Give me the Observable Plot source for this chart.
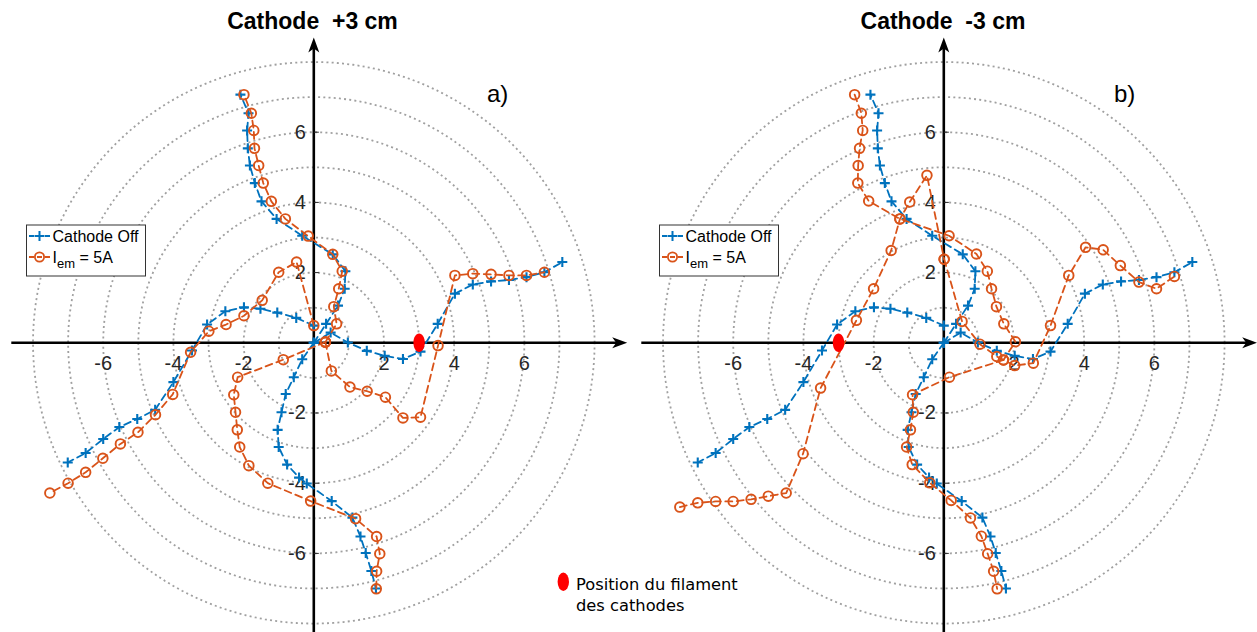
<!DOCTYPE html>
<html>
<head>
<meta charset="utf-8">
<script src="https://cdn.jsdelivr.net/npm/d3@7"></script>
<script src="https://cdn.jsdelivr.net/npm/@observablehq/plot@0.6"></script>
<style>
  html, body { margin: 0; padding: 0; background: #fff; }
  #wrap { position: relative; width: 1257px; height: 632px; overflow: hidden; font-family: "Liberation Sans", Arial, sans-serif; }
  .panel { position: absolute; top: 0; }
  #overlay { position: absolute; left: 0; top: 0; pointer-events: none; }
</style>
</head>
<body>
<div id="wrap">
  <div class="panel" id="left" style="left:0px"></div>
  <div class="panel" id="right" style="left:629px"></div>
  <svg id="overlay" width="1257" height="632"></svg>
</div>
<script>
// ---------------- DATA ----------------
// Axis tick labels and grid circle radii
const tickValues = [-6, -4, -2, 2, 4, 6];
const gridRadii = [1, 2, 3, 4, 5, 6, 7, 8];

// Cathode Off (blue, identical in both panels): four arms, [x, y] in cm
const offArmTop = [[0,0],[0.35,0.54],[0.69,1.06],[0.88,1.54],[0.90,2.04],[0.54,2.52],[-0.33,3.05],[-1.06,3.53],[-1.49,4.03],[-1.68,4.55],[-1.82,5.05],[-1.88,5.54],[-1.90,6.05],[-1.86,6.54],[-2.09,7.07]];
const offArmRight = [[0,0],[0.48,0.29],[0.97,0.01],[1.51,-0.23],[2.02,-0.37],[2.54,-0.46],[3.04,-0.25],[3.53,0.54],[4.02,1.40],[4.53,1.66],[5.05,1.75],[5.56,1.79],[6.06,1.87],[6.57,2.01],[7.08,2.30]];
const offArmLeft = [[0,0.49],[-0.50,0.71],[-1.04,0.86],[-1.52,0.97],[-1.99,1.01],[-2.52,0.90],[-3.04,0.52],[-3.47,-0.22],[-4.00,-1.12],[-4.52,-1.91],[-5.03,-2.17],[-5.54,-2.40],[-6.00,-2.74],[-6.50,-3.14],[-7.01,-3.41]];
const offArmBottom = [[0,0],[-0.33,-0.47],[-0.57,-0.98],[-0.80,-1.46],[-0.92,-1.98],[-1.03,-2.48],[-1.00,-2.97],[-0.76,-3.47],[-0.42,-3.84],[-0.20,-4.01],[0.51,-4.51],[1.10,-4.98],[1.33,-5.52],[1.48,-5.99],[1.64,-6.50],[1.77,-7.00]];

// I_em = 5A, cathode at +3 cm (panel a)
const plusArmTop = [[0.33,0.02],[0.65,0.54],[0.57,1.03],[0.71,1.54],[0.81,2.04],[0.54,2.52],[-0.16,3.04],[-0.81,3.53],[-1.21,4.03],[-1.44,4.55],[-1.57,5.05],[-1.69,5.54],[-1.71,6.05],[-1.78,6.54],[-1.99,7.07]];
const plusArmRight = [[0.33,0.02],[0.50,-0.80],[1.03,-1.26],[1.52,-1.38],[2.04,-1.55],[2.54,-2.14],[3.04,-2.12],[3.54,-0.08],[4.02,1.92],[4.53,1.97],[5.05,1.95],[5.56,1.92],[6.06,1.92],[6.57,2.01]];
const plusArmLeft = [[0,0.49],[-0.49,2.30],[-1.00,2.01],[-1.47,1.21],[-1.99,0.77],[-2.50,0.52],[-2.99,0.33],[-3.51,-0.27],[-4.02,-1.47],[-4.51,-2.05],[-5.01,-2.55],[-5.51,-2.88],[-6.01,-3.29],[-6.50,-3.69],[-7.00,-4.00],[-7.52,-4.28]];
const plusArmBottom = [[0.33,0.02],[-0.87,-0.48],[-2.17,-0.98],[-2.28,-1.48],[-2.23,-1.98],[-2.18,-2.48],[-2.11,-2.97],[-1.85,-3.50],[-1.31,-4.00],[-0.09,-4.51],[1.19,-5.01],[1.79,-5.52],[1.88,-6.01],[1.79,-6.51],[1.78,-7.01]];

// I_em = 5A, cathode at -3 cm (panel b)
const minusArmTop = [[-2.54,7.07],[-2.35,6.54],[-2.31,6.05],[-2.40,5.54],[-2.44,5.05],[-2.45,4.55],[-2.14,4.04],[-1.25,3.53],[0.15,3.05],[0.93,2.53],[1.24,2.04],[1.36,1.54],[1.50,1.03],[1.71,0.54],[2.04,0.03],[1.70,-0.49]];
const minusArmBottom = [[1.70,-0.49],[0.16,-0.98],[-0.89,-1.48],[-0.87,-1.98],[-0.95,-2.48],[-1.06,-2.97],[-0.90,-3.47],[-0.40,-3.99],[0.21,-4.49],[0.76,-4.99],[1.07,-5.51],[1.25,-6.01],[1.42,-6.51],[1.52,-7.01]];
const minusArmLeft = [[-7.52,-4.68],[-7.01,-4.56],[-6.50,-4.52],[-6.00,-4.52],[-5.49,-4.46],[-5.00,-4.37],[-4.49,-4.28],[-4.01,-3.16],[-3.51,-1.29],[-2.49,0.64],[-2.00,1.54],[-1.50,2.63],[-1.25,3.53],[-0.97,4.01],[-0.48,4.77],[0.01,2.38]];
const minusArmRight = [[0.01,2.38],[0.52,0.61],[1.03,-0.04],[1.51,-0.39],[2.02,-0.65],[2.55,-0.58],[3.04,0.49],[3.56,1.92],[4.04,2.72],[4.54,2.65],[5.03,2.20],[5.56,1.73],[6.06,1.54],[6.57,1.89]];

// Filament positions (cm)
const filamentA = [3];
const filamentB = [-3];

// ---------------- STYLE / LAYOUT ----------------
const BLUE = "#0072BD", ORANGE = "#D95319", INK = "#262626";
const PX = 35.1;              // pixels per cm
const H = 632, OY = 342.3;    // origin row
const yDomain = [-(H - OY) / PX, OY / PX];
const axisExtent = {neg: 302 / PX, pos: 313.4 / PX, top: (OY - 37) / PX, bottom: -(H - OY + 5) / PX};

const rows = (arr, arm) => arr.map(([x, y]) => ({x, y, arm}));

const arrowSym = {
  draw(ctx) {
    ctx.moveTo(0, 0); ctx.lineTo(-15, -5.5); ctx.lineTo(-11, 0); ctx.lineTo(-15, 5.5); ctx.closePath();
  }
};
const ellipseSym = {
  draw(ctx) {
    const rx = 5.7, ry = 9.2, k = 0.5523;
    ctx.moveTo(rx, 0);
    ctx.bezierCurveTo(rx, ry * k, rx * k, ry, 0, ry);
    ctx.bezierCurveTo(-rx * k, ry, -rx, ry * k, -rx, 0);
    ctx.bezierCurveTo(-rx, -ry * k, -rx * k, -ry, 0, -ry);
    ctx.bezierCurveTo(rx * k, -ry, rx, -ry * k, rx, 0);
    ctx.closePath();
  }
};
const plusSym = {
  draw(ctx) {
    ctx.moveTo(-5, 0); ctx.lineTo(5, 0); ctx.moveTo(0, -5); ctx.lineTo(0, 5);
  }
};

const gridPts = gridRadii.flatMap(r => d3.range(0, 362, 2).map(a => ({r, x: r * Math.cos(a * Math.PI / 180), y: r * Math.sin(a * Math.PI / 180)})));

function panel({width, originX, orangeArms, filament}) {
  const xDomain = [-originX / PX, (width - originX) / PX];
  const blue = [...rows(offArmTop, "t"), ...rows(offArmRight, "r"), ...rows(offArmLeft, "l"), ...rows(offArmBottom, "b")];
  const orange = orangeArms.flatMap((a, i) => rows(a, "o" + i));
  const dash = "7,4.5";
  return Plot.plot({
    width, height: H, margin: 0,
    x: {domain: xDomain, axis: null},
    y: {domain: yDomain, axis: null},
    style: {background: "transparent", overflow: "visible", fontFamily: "'Liberation Sans', Arial, sans-serif"},
    marks: [
      Plot.line(gridPts, {x: "x", y: "y", z: "r", stroke: "#a0a0a0", strokeWidth: 1.8, strokeDasharray: "2,3.2", strokeLinecap: "butt"}),
      // axes
      Plot.ruleY([0], {x1: -axisExtent.neg, x2: axisExtent.pos - 8 / PX, stroke: "black", strokeWidth: 2.6}),
      Plot.ruleX([0], {y1: axisExtent.bottom, y2: axisExtent.top - 8 / PX, stroke: "black", strokeWidth: 2.6}),
      Plot.dot([{x: axisExtent.pos, y: 0, rot: 0}, {x: 0, y: axisExtent.top, rot: -90}], {x: "x", y: "y", rotate: "rot", symbol: arrowSym, fill: "black", stroke: "none"}),
      Plot.link(tickValues, {x1: 0, x2: 5 / PX, y1: d => d, y2: d => d, stroke: INK, strokeWidth: 1}),
      Plot.text(tickValues, {x: d => d, y: 0, text: d => String(d), dy: 21, fontSize: 20, fill: INK, textAnchor: "middle"}),
      Plot.text(tickValues, {x: 0, y: d => d, text: d => String(d), dx: -8, fontSize: 20, fill: INK, textAnchor: "end"}),
      // Cathode Off
      Plot.line(blue, {x: "x", y: "y", z: "arm", stroke: BLUE, strokeWidth: 1.8, strokeDasharray: dash}),
      Plot.dot(blue, {x: "x", y: "y", symbol: plusSym, stroke: BLUE, strokeWidth: 2.1, fill: "none"}),
      // I_em = 5A
      Plot.line(orange, {x: "x", y: "y", z: "arm", stroke: ORANGE, strokeWidth: 1.8, strokeDasharray: dash}),
      Plot.dot(orange, {x: "x", y: "y", r: 4.8, stroke: ORANGE, strokeWidth: 1.9, fill: "none"}),
      // filament
      Plot.dot(filament, {x: d => d, y: 0, symbol: ellipseSym, fill: "#ff0000", stroke: "none"})
    ]
  });
}

document.getElementById("left").append(panel({width: 629, originX: 313.3, orangeArms: [plusArmTop, plusArmRight, plusArmLeft, plusArmBottom], filament: filamentA}));
document.getElementById("right").append(panel({width: 628, originX: 943.3 - 629, orangeArms: [minusArmTop, minusArmBottom, minusArmLeft, minusArmRight], filament: filamentB}));

// ---------------- Annotations (titles, legends) ----------------
const ov = d3.select("#overlay");
const titles = [{t: "Cathode  +3 cm", x: 312.5}, {t: "Cathode  -3 cm", x: 943}];
ov.selectAll("text.title").data(titles).join("text").attr("class", "title")
  .attr("x", d => d.x).attr("y", 29).attr("text-anchor", "middle")
  .attr("font-family", "'Liberation Sans', Arial, sans-serif").attr("font-weight", "bold").attr("font-size", 23)
  .style("white-space", "pre").attr("xml:space", "preserve").text(d => d.t);
const tags = [{t: "a)", x: 487}, {t: "b)", x: 1114}];
ov.selectAll("text.tag").data(tags).join("text").attr("class", "tag")
  .attr("x", d => d.x).attr("y", 102).attr("font-family", "'Liberation Sans', Arial, sans-serif").attr("font-size", 24).text(d => d.t);

function legend(x0, y0) {
  const g = ov.append("g").attr("transform", `translate(${x0},${y0})`);
  g.append("rect").attr("x", 0.5).attr("y", 0.5).attr("width", 119).attr("height", 51).attr("fill", "white").attr("stroke", "#333").attr("stroke-width", 1);
  g.append("line").attr("x1", 3).attr("x2", 24).attr("y1", 11.5).attr("y2", 11.5).attr("stroke", BLUE).attr("stroke-width", 1.8).attr("stroke-dasharray", "5,3");
  g.append("path").attr("d", "M8.5,11.5h10M13.5,6.5v10").attr("stroke", BLUE).attr("stroke-width", 2);
  g.append("text").attr("x", 26.5).attr("y", 17.5).attr("font-size", 16).attr("font-family", "'Liberation Sans', Arial, sans-serif").text("Cathode Off");
  g.append("line").attr("x1", 3).attr("x2", 24).attr("y1", 32.5).attr("y2", 32.5).attr("stroke", ORANGE).attr("stroke-width", 1.8).attr("stroke-dasharray", "5,3");
  g.append("circle").attr("cx", 13.5).attr("cy", 32.5).attr("r", 4.6).attr("fill", "none").attr("stroke", ORANGE).attr("stroke-width", 1.8);
  const t = g.append("text").attr("x", 26.5).attr("y", 38.5).attr("font-size", 16).attr("font-family", "'Liberation Sans', Arial, sans-serif");
  t.append("tspan").text("I");
  t.append("tspan").attr("dy", 5).attr("font-size", 13).text("em");
  t.append("tspan").attr("dy", -5).text(" = 5A");
}
legend(26, 224.5);
legend(659, 224.5);

const fl = ov.append("g");
fl.append("ellipse").attr("cx", 563.3).attr("cy", 581.7).attr("rx", 5.7).attr("ry", 9.2).attr("fill", "#ff0000");
fl.append("text").attr("x", 576).attr("y", 590).attr("font-family", "'DejaVu Sans', sans-serif").attr("font-size", 16.3).text("Position du filament");
fl.append("text").attr("x", 576).attr("y", 611).attr("font-family", "'DejaVu Sans', sans-serif").attr("font-size", 16.3).text("des cathodes");
</script>
</body>
</html>
